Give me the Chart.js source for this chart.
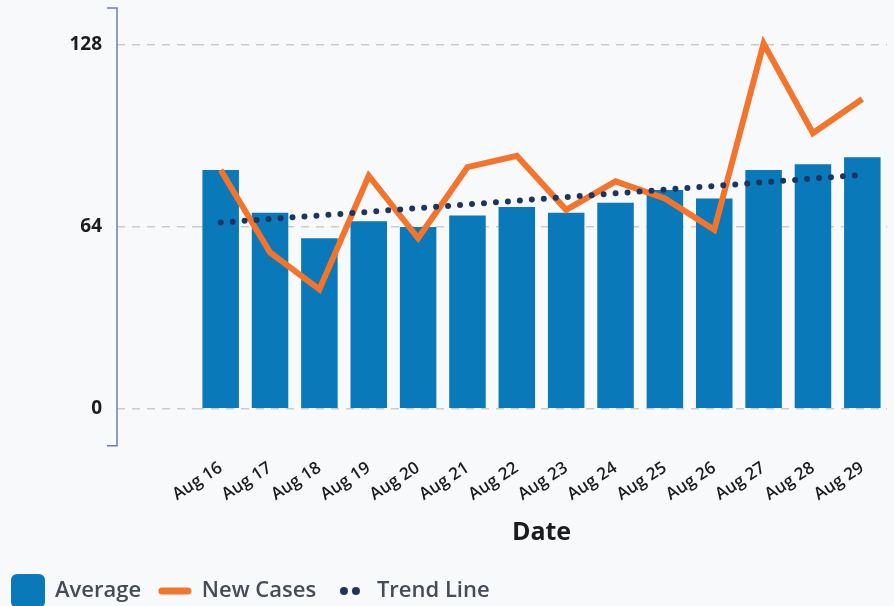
<!DOCTYPE html>
<html>
<head>
<meta charset="utf-8">
<script src="https://cdn.jsdelivr.net/npm/chart.js@4/dist/chart.umd.min.js"></script>
<style>
  html, body { margin: 0; padding: 0; background: #f8f9fb; }
  canvas { display: block; }
</style>
</head>
<body>
<canvas id="casesChart" width="894" height="606"></canvas>
<script>
var dates = ["Aug 16", "Aug 17", "Aug 18", "Aug 19", "Aug 20", "Aug 21", "Aug 22",
             "Aug 23", "Aug 24", "Aug 25", "Aug 26", "Aug 27", "Aug 28", "Aug 29"];
var average = [84, 69, 60, 66, 64, 68, 71, 69, 72.5, 77, 74, 84, 86, 88.5];
var newCases = [84, 55, 42, 82, 60, 85, 89, 70, 80, 74, 63, 128.5, 97, 109];
var trendLine = [65.5, 66.8, 68, 69.3, 70.6, 71.9, 73.2, 74.5, 75.8, 77.1, 78.4, 79.7, 81, 82.3];
var yTicks = [0, 64, 128];

var blue = "#0a79b9";
var orange = "#f3742a";
var navy = "#1d3461";

function marker(w, h, draw) {
    var c = document.createElement("canvas");
    c.width = w;
    c.height = h;
    draw(c.getContext("2d"));
    return c;
}

var boxMarker = marker(34, 34, function (g) {
    g.fillStyle = blue;
    g.beginPath();
    g.roundRect(0, 0, 34, 34, 6);
    g.fill();
});
var lineMarker = marker(34, 8, function (g) {
    g.strokeStyle = orange;
    g.lineWidth = 7;
    g.lineCap = "round";
    g.beginPath();
    g.moveTo(4, 4);
    g.lineTo(30, 4);
    g.stroke();
});
var dotsMarker = marker(24, 10, function (g) {
    g.fillStyle = navy;
    [6, 18].forEach(function (x) {
        g.beginPath();
        g.arc(x, 5, 4, 0, Math.PI * 2);
        g.fill();
    });
});

// y axis bracket, drawn left of the plot
var bracket = {
    id: "bracket",
    afterDraw: function (chart) {
        var g = chart.ctx, a = chart.chartArea;
        var x = 117;
        g.save();
        g.strokeStyle = "#6b7fae";
        g.lineWidth = 1.5;
        g.beginPath();
        g.moveTo(107, a.top);
        g.lineTo(x, a.top);
        g.lineTo(x, a.bottom);
        g.lineTo(107, a.bottom);
        g.stroke();
        g.restore();
    }
};

var ctx = document.getElementById("casesChart");

var casesChart = new Chart(ctx, {
    type: "bar",
    data: {
        labels: dates,
        datasets: [
            {
                type: "line",
                label: "Trend Line",
                data: trendLine,
                borderColor: navy,
                borderWidth: 6,
                borderDash: [0, 12],
                borderCapStyle: "round",
                pointRadius: 0,
                fill: false,
                order: 1
            },
            {
                type: "line",
                label: "New Cases",
                data: newCases,
                borderColor: orange,
                borderWidth: 6,
                borderJoinStyle: "miter",
                pointRadius: 0,
                tension: 0,
                fill: false,
                order: 2
            },
            {
                label: "Average",
                data: average,
                backgroundColor: blue,
                barPercentage: 0.74,
                categoryPercentage: 1,
                order: 3
            }
        ]
    },
    options: {
        responsive: false,
        animation: false,
        layout: { padding: { top: 8, right: 7, left: 0, bottom: -6 } },
        plugins: {
            tooltip: { enabled: false },
            legend: {
                position: "bottom",
                align: "start",
                labels: {
                    usePointStyle: true,
                    pointStyleWidth: 32,
                    padding: 12,
                    color: "#454b57",
                    font: { family: "'Open Sans'", size: 22, weight: "600" },
                    generateLabels: function () {
                        return [
                            { text: "Average ", pointStyle: boxMarker, datasetIndex: 2, fontColor: "#454b57", lineWidth: 0 },
                            { text: "New Cases ", pointStyle: lineMarker, datasetIndex: 1, fontColor: "#454b57", lineWidth: 0 },
                            { text: "Trend Line", pointStyle: dotsMarker, datasetIndex: 0, fontColor: "#454b57", lineWidth: 0 }
                        ];
                    }
                }
            }
        },
        scales: {
            x: {
                grid: { display: false, drawTicks: false },
                border: { display: false },
                ticks: {
                    minRotation: 33,
                    maxRotation: 33,
                    padding: 12,
                    color: "#1c1c1c",
                    font: { family: "'Open Sans'", size: 17, weight: "600" }
                },
                title: {
                    display: true,
                    text: "Date",
                    color: "#1c1c1c",
                    padding: { top: 1, bottom: 20 },
                    font: { family: "'Open Sans'", size: 25, weight: "bold" }
                }
            },
            y: {
                min: -13,
                max: 141,
                afterBuildTicks: function (scale) {
                    scale.ticks = yTicks.map(function (v) { return { value: v }; });
                },
                afterFit: function (scale) {
                    scale.width = 196;
                    scale.paddingTop = 0;
                    scale.paddingBottom = 0;
                },
                border: { display: false, dash: [8, 7] },
                grid: {
                    color: "#c9cbd0",
                    lineWidth: 1.5,
                    tickLength: 79,
                    tickColor: "#c9cbd0",
                    tickWidth: 1.5,
                    tickBorderDash: [8, 7]
                },
                ticks: {
                    padding: 15,
                    color: "#1c1c1c",
                    font: { family: "'Open Sans'", size: 19, weight: "bold" }
                }
            }
        }
    },
    plugins: [bracket]
});
</script>
</body>
</html>
